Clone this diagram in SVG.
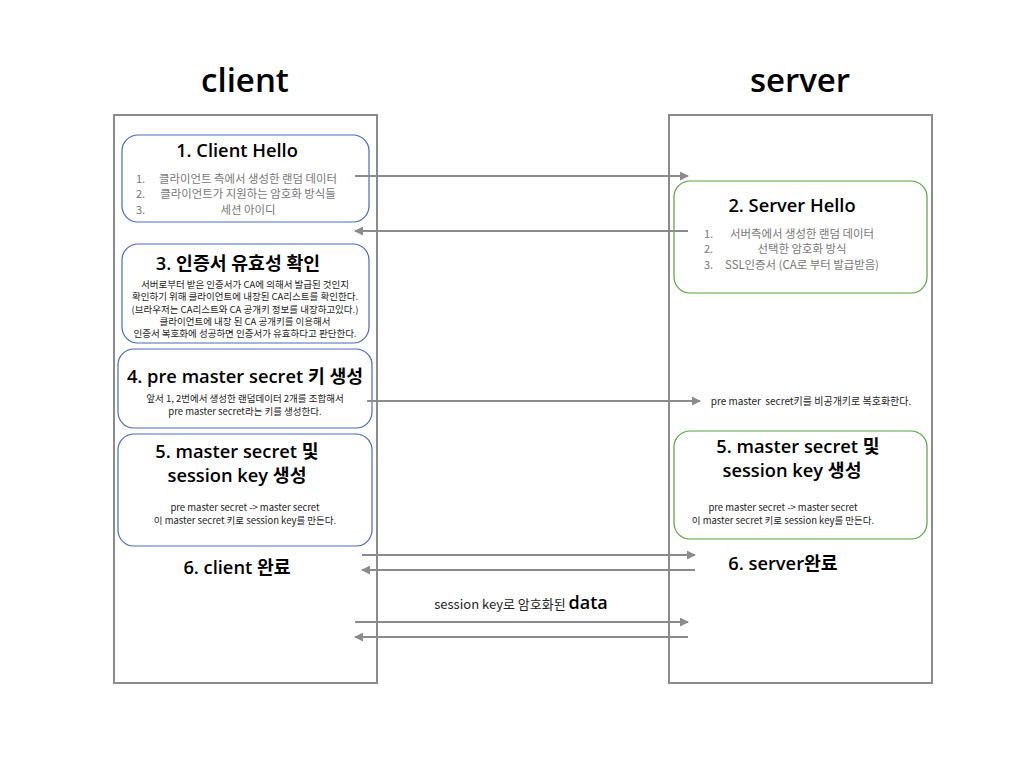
<svg xmlns="http://www.w3.org/2000/svg" width="1024" height="768" viewBox="0 0 1024 768">
<defs>
<marker id="ah" viewBox="0 0 10 10" refX="9" refY="5" markerWidth="4.5" markerHeight="4.5" orient="auto-start-reverse">
<path d="M0,0 L10,5 L0,10 z" fill="#8a8b8e"/>
</marker>
<style>
text{font-family:"Open Sans","Noto Sans CJK KR",sans-serif;}
.hd{font-size:33px;font-weight:600;fill:#000;text-anchor:middle;}
.lane{fill:#fff;stroke:#8a8b8e;stroke-width:2;}
.cn{fill:#fff;stroke:#4a68c0;stroke-width:1.2;}
.sn{fill:#fff;stroke:#56a43a;stroke-width:1.2;}
.t{font-size:18.3px;font-weight:600;fill:#000;text-anchor:middle;}
.li{font-size:11px;fill:#777;font-family:"Noto Sans CJK KR",sans-serif;}
.lc{font-size:11.4px;fill:#777;text-anchor:middle;font-family:"Noto Sans CJK KR",sans-serif;}
.b{font-size:9.5px;fill:#222;text-anchor:middle;font-family:"Noto Sans CJK KR",sans-serif;}
.c{stroke:#8a8b8e;stroke-width:2;fill:none;marker-end:url(#ah);}
</style>
</defs>
<rect width="1024" height="768" fill="#fff"/>
<g id="lanes">
<rect class="lane" x="114" y="115" width="263" height="568"/>
<rect class="lane" x="669" y="115" width="263" height="568"/>
<text class="hd" x="245" y="92">client</text>
<text class="hd" x="800" y="92">server</text>
</g>
<g id="n1">
<rect class="cn" x="122" y="135" width="247" height="87" rx="16"/>
<text class="t" x="237" y="157">1. Client Hello</text>
<text class="li" x="136" y="183">1.</text>
<text class="lc" x="248" y="183">클라이언트 측에서 생성한 랜덤 데이터</text>
<text class="li" x="136" y="198">2.</text>
<text class="lc" x="248" y="198">클라이언트가 지원하는 암호화 방식들</text>
<text class="li" x="136" y="214">3.</text>
<text class="lc" x="248" y="214">세션 아이디</text>
</g>
<g id="n3">
<rect class="cn" x="122" y="244" width="247" height="99" rx="16"/>
<text class="t" x="238" y="270">3. 인증서 유효성 확인</text>
<text class="b" x="245" y="288">서버로부터 받은 인증서가 CA에 의해서 발급된 것인지</text>
<text class="b" x="245" y="300">확인하기 위해 클라이언트에 내장된 CA리스트를 확인한다.</text>
<text class="b" x="245" y="313">(브라우저는 CA리스트와 CA 공개키 정보를 내장하고있다.)</text>
<text class="b" x="245" y="325">클라이언트에 내장 된 CA 공개키를 이용해서</text>
<text class="b" x="245" y="337">인증서 복호화에 성공하면 인증서가 유효하다고 판단한다.</text>
</g>
<g id="n4">
<rect class="cn" x="118" y="349" width="254" height="79" rx="16"/>
<text class="t" x="245" y="383">4. pre master secret 키 생성</text>
<text class="b" x="245" y="402">앞서 1, 2번에서 생성한 랜덤데이터 2개를 조합해서</text>
<text class="b" x="245" y="415">pre master secret라는 키를 생성한다.</text>
</g>
<g id="n5c">
<rect class="cn" x="118" y="434" width="254" height="112" rx="16"/>
<text class="t" x="237" y="458">5. master secret 및</text>
<text class="t" x="237" y="482">session key 생성</text>
<text class="b" x="245" y="511">pre master secret -&gt; master secret</text>
<text class="b" x="245" y="524">이 master secret 키로 session key를 만든다.</text>
</g>
<g id="n2">
<rect class="sn" x="674" y="181" width="253" height="112" rx="16"/>
<text class="t" x="792" y="212">2. Server Hello</text>
<text class="li" x="704" y="238">1.</text>
<text class="lc" x="802" y="238">서버측에서 생성한 랜덤 데이터</text>
<text class="li" x="704" y="253">2.</text>
<text class="lc" x="802" y="253">선택한 암호화 방식</text>
<text class="li" x="704" y="269">3.</text>
<text class="lc" x="802" y="269">SSL인증서 (CA로 부터 발급받음)</text>
</g>
<g id="n5s">
<rect class="sn" x="674" y="431" width="253" height="108" rx="16"/>
<text class="t" x="798" y="453">5. master secret 및</text>
<text class="t" x="792" y="477">session key 생성</text>
<text class="b" x="783" y="511">pre master secret -&gt; master secret</text>
<text class="b" x="783" y="524">이 master secret 키로 session key를 만든다.</text>
</g>
<g id="labels">
<text class="b" x="811" y="405" style="white-space:pre;font-size:10px" xml:space="preserve">pre master  secret키를 비공개키로 복호화한다.</text>
<text class="t" x="237" y="574">6. client 완료</text>
<text class="t" x="783" y="570">6. server완료</text>
<text x="521" y="609" text-anchor="middle"><tspan font-size="13" fill="#222" font-family="Noto Sans CJK KR,sans-serif">session key로 암호화된 </tspan><tspan font-size="18" font-weight="600" fill="#000">data</tspan></text>
</g>
<g id="connectors">
<line class="c" x1="355" y1="176" x2="688" y2="176"/>
<line class="c" x1="688" y1="231" x2="355" y2="231"/>
<line class="c" x1="367" y1="401" x2="700" y2="401"/>
<line class="c" x1="362" y1="555" x2="695" y2="555"/>
<line class="c" x1="695" y1="570" x2="362" y2="570"/>
<line class="c" x1="355" y1="622" x2="688" y2="622"/>
<line class="c" x1="688" y1="637" x2="355" y2="637"/>
</g>
</svg>
